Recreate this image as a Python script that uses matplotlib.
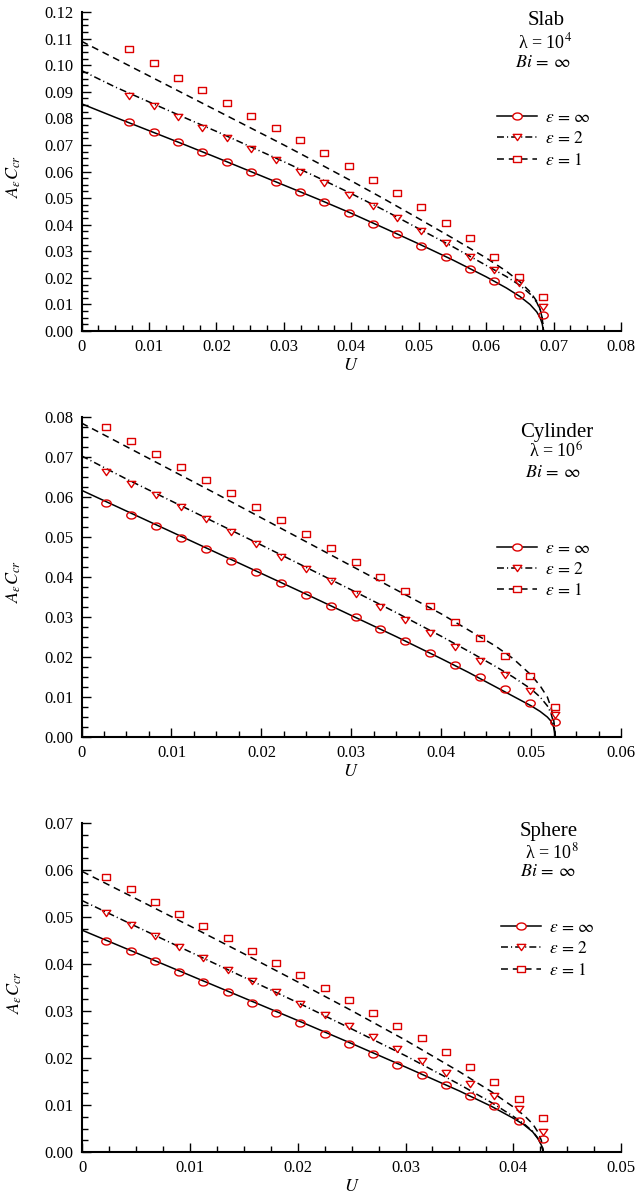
import numpy as np
import matplotlib
matplotlib.use('Agg')
import matplotlib.pyplot as plt
from matplotlib.path import Path
from matplotlib.lines import Line2D
from matplotlib.ticker import MultipleLocator, FuncFormatter

plt.rcParams['font.family'] = ['Liberation Serif', 'DejaVu Serif']
plt.rcParams['mathtext.fontset'] = 'stix'
plt.rcParams['lines.scale_dashes'] = False

# ---------------- Slab (lambda = 1e4) ----------------
slab_mU = [0.0071, 0.0107, 0.0143, 0.0179, 0.0215, 0.0252, 0.0288, 0.0324, 0.0360,
           0.0396, 0.0432, 0.0468, 0.0504, 0.0540, 0.0576, 0.0612, 0.0648, 0.0684]
slab_inf = [0.0785, 0.0748, 0.0710, 0.0675, 0.0637, 0.0598, 0.0561, 0.0523, 0.0484,
            0.0444, 0.0404, 0.0364, 0.0320, 0.0278, 0.0234, 0.0190, 0.0136, 0.0062]
slab_e2 = [0.0885, 0.0847, 0.0804, 0.0765, 0.0726, 0.0685, 0.0644, 0.0600, 0.0557,
           0.0513, 0.0470, 0.0424, 0.0376, 0.0330, 0.0277, 0.0229, 0.0179, 0.0091]
slab_e1 = [0.1062, 0.1007, 0.0953, 0.0905, 0.0856, 0.0810, 0.0764, 0.0718, 0.0670,
           0.0620, 0.0570, 0.0519, 0.0465, 0.0407, 0.0349, 0.0280, 0.0202, 0.0127]
slab_lU = [0.0, 0.005, 0.010, 0.015, 0.020, 0.025, 0.030, 0.035, 0.040, 0.045,
           0.050, 0.055, 0.060, 0.063, 0.065, 0.0665, 0.0675, 0.068, 0.0683, 0.0685]
slab_l_inf = [0.0855, 0.0804, 0.0754, 0.0704, 0.0653, 0.0601, 0.0549, 0.0497, 0.0443, 0.0386,
              0.0328, 0.0268, 0.0204, 0.0162, 0.0130, 0.0100, 0.0072, 0.0050, 0.0028, 0.0]
slab_l_e2 = [0.0980, 0.0918, 0.0862, 0.0806, 0.0751, 0.0694, 0.0637, 0.0578, 0.0517, 0.0453,
             0.0385, 0.0318, 0.0247, 0.0205, 0.0172, 0.0140, 0.0108, 0.0080, 0.0050, 0.0]
slab_l_e1 = [0.1090, 0.1025, 0.0960, 0.0895, 0.0830, 0.0765, 0.0700, 0.0633, 0.0565, 0.0495,
             0.0423, 0.0350, 0.0275, 0.0225, 0.0185, 0.0148, 0.0112, 0.0082, 0.0050, 0.0]

# ---------------- Cylinder (lambda = 1e6) ----------------
cyl_mU = [0.00277, 0.00554, 0.00831, 0.01108, 0.01385, 0.01662, 0.01939, 0.02216, 0.02493,
          0.02770, 0.03047, 0.03324, 0.03601, 0.03878, 0.04155, 0.04432, 0.04709, 0.04986, 0.05263]
cyl_inf = [0.0585, 0.0556, 0.0527, 0.0498, 0.0470, 0.0441, 0.0413, 0.0384, 0.0356, 0.0327,
           0.0299, 0.0270, 0.0240, 0.0209, 0.0180, 0.0149, 0.0119, 0.0086, 0.0038]
cyl_e2 = [0.0663, 0.0633, 0.0604, 0.0574, 0.0544, 0.0513, 0.0482, 0.0451, 0.0420, 0.0389,
          0.0357, 0.0325, 0.0292, 0.0259, 0.0224, 0.0191, 0.0155, 0.0116, 0.0055]
cyl_e1 = [0.0776, 0.0740, 0.0708, 0.0676, 0.0643, 0.0610, 0.0576, 0.0543, 0.0508, 0.0473,
          0.0437, 0.0401, 0.0365, 0.0328, 0.0288, 0.0248, 0.0203, 0.0153, 0.0076]
cyl_lU = [0.0, 0.005, 0.010, 0.015, 0.020, 0.025, 0.030, 0.035, 0.040, 0.043,
          0.046, 0.048, 0.050, 0.051, 0.0518, 0.0522, 0.0525, 0.0527]
cyl_l_inf = [0.0617, 0.0565, 0.0513, 0.0461, 0.0409, 0.0357, 0.0304, 0.0251, 0.0196, 0.0162,
             0.0126, 0.0102, 0.0078, 0.0064, 0.0050, 0.0040, 0.0025, 0.0]
cyl_l_e2 = [0.0703, 0.0645, 0.0590, 0.0535, 0.0480, 0.0424, 0.0368, 0.0311, 0.0252, 0.0215,
            0.0177, 0.0150, 0.0120, 0.0100, 0.0078, 0.0060, 0.0035, 0.0]
cyl_l_e1 = [0.0785, 0.0726, 0.0667, 0.0608, 0.0548, 0.0488, 0.0428, 0.0368, 0.0308, 0.0268,
            0.0228, 0.0196, 0.0155, 0.0128, 0.0100, 0.0075, 0.0045, 0.0]

# ---------------- Sphere (lambda = 1e8) ----------------
sph_mU = [0.00225, 0.00450, 0.00675, 0.00900, 0.01125, 0.01350, 0.01575, 0.01800, 0.02025,
          0.02250, 0.02475, 0.02700, 0.02925, 0.03150, 0.03375, 0.03600, 0.03825, 0.04050, 0.04275]
sph_inf = [0.0450, 0.0428, 0.0406, 0.0384, 0.0362, 0.0340, 0.0318, 0.0296, 0.0274, 0.0252,
           0.0230, 0.0208, 0.0186, 0.0164, 0.0142, 0.0120, 0.0097, 0.0067, 0.0028]
sph_e2 = [0.0508, 0.0484, 0.0460, 0.0436, 0.0412, 0.0388, 0.0364, 0.0340, 0.0316, 0.0292,
          0.0268, 0.0244, 0.0219, 0.0194, 0.0169, 0.0144, 0.0120, 0.0092, 0.0042]
sph_e1 = [0.0586, 0.0559, 0.0533, 0.0507, 0.0481, 0.0455, 0.0428, 0.0402, 0.0376, 0.0350,
          0.0323, 0.0296, 0.0269, 0.0242, 0.0212, 0.0182, 0.0150, 0.0113, 0.0072]
sph_lU = [0.0, 0.005, 0.010, 0.015, 0.020, 0.025, 0.030, 0.035, 0.038, 0.040,
          0.041, 0.0418, 0.0423, 0.0426, 0.0428]
sph_l_inf = [0.0472, 0.0424, 0.0376, 0.0328, 0.0280, 0.0231, 0.0181, 0.0130, 0.0097, 0.0072,
             0.0058, 0.0043, 0.0028, 0.0015, 0.0]
sph_l_e2 = [0.0535, 0.0480, 0.0426, 0.0372, 0.0318, 0.0262, 0.0205, 0.0144, 0.0105, 0.0076,
            0.0060, 0.0044, 0.0029, 0.0016, 0.0]
sph_l_e1 = [0.0597, 0.0539, 0.0481, 0.0422, 0.0362, 0.0301, 0.0238, 0.0171, 0.0128, 0.0096,
            0.0078, 0.0060, 0.0042, 0.0025, 0.0]

labels = [r'$\epsilon\,=\,\infty$', r'$\epsilon\,=\,2$', r'$\epsilon\,=\,1$']

# marker shapes (flattened like the original)
t = np.linspace(0, 2 * np.pi, 41)
m_ell = Path(np.column_stack([np.cos(t), 0.74 * np.sin(t)]), closed=True)
m_tri = Path([(-1, 0.72), (1, 0.72), (0, -0.72), (-1, 0.72)], closed=True)
m_rect = Path([(-1, -0.72), (1, -0.72), (1, 0.72), (-1, 0.72), (-1, -0.72)], closed=True)
markers = [m_ell, m_tri, m_rect]
msizes = [6.8, 6.2, 5.6]
styles = ['-', (0, (5, 2.2, 0.8, 2.2)), (0, (5, 3.5))]
red = '#dd0000'

panels = [
    dict(rect=[0.128, 0.7225, 0.847, 0.2674], xmax=0.08, ymax=0.12,
         mU=slab_mU, m=[slab_inf, slab_e2, slab_e1],
         lU=slab_lU, l=[slab_l_inf, slab_l_e2, slab_l_e1],
         name='Slab', lam=r'λ = 10$^{4}$',
         txt=[(0.861, 0.972), (0.859, 0.905), (0.855, 0.843)], leg=(0.770, 0.693)),
    dict(rect=[0.128, 0.3822, 0.847, 0.2682], xmax=0.06, ymax=0.08,
         mU=cyl_mU, m=[cyl_inf, cyl_e2, cyl_e1],
         lU=cyl_lU, l=[cyl_l_inf, cyl_l_e2, cyl_l_e1],
         name='Cylinder', lam=r'λ = 10$^{6}$',
         txt=[(0.881, 0.953), (0.880, 0.891), (0.874, 0.828)], leg=(0.770, 0.614)),
    dict(rect=[0.129, 0.0343, 0.846, 0.2758], xmax=0.05, ymax=0.07,
         mU=sph_mU, m=[sph_inf, sph_e2, sph_e1],
         lU=sph_lU, l=[sph_l_inf, sph_l_e2, sph_l_e1],
         name='Sphere', lam=r'λ = 10$^{8}$',
         txt=[(0.865, 0.974), (0.872, 0.912), (0.863, 0.852)], leg=(0.777, 0.706)),
]

fig = plt.figure(figsize=(6.37, 11.93), dpi=100)

for p in panels:
    ax = fig.add_axes(p['rect'])
    for k in range(3):
        ax.plot(p['lU'], p['l'][k], color='black', lw=1.1, linestyle=styles[k], zorder=2)
        ax.plot(p['mU'], p['m'][k], linestyle='none', marker=markers[k], ms=msizes[k],
                mfc='none', mec=red, mew=1.0, zorder=3, clip_on=False)
    ax.set_xlim(0, p['xmax'])
    ax.set_ylim(0, p['ymax'])
    ax.xaxis.set_major_locator(MultipleLocator(0.01))
    ax.xaxis.set_minor_locator(MultipleLocator(0.0025))
    ax.yaxis.set_major_locator(MultipleLocator(0.01))
    ax.yaxis.set_minor_locator(MultipleLocator(0.0025))
    ax.xaxis.set_major_formatter(FuncFormatter(lambda v, pos: '0' if abs(v) < 1e-9 else '%.2f' % v))
    ax.yaxis.set_major_formatter(FuncFormatter(lambda v, pos: '%.2f' % v))
    for s in ['top', 'right']:
        ax.spines[s].set_visible(False)
    for s in ['left', 'bottom']:
        ax.spines[s].set_linewidth(1.5)
    ax.tick_params(which='both', direction='in', top=False, right=False, width=1.0,
                   labelsize=12)
    ax.tick_params(which='major', length=6.5, pad=6)
    ax.tick_params(which='minor', length=4)
    ax.set_xlabel(r'$U$', fontsize=13, labelpad=1)
    ax.set_ylabel(r'$A_\epsilon C_{cr}$', fontsize=13)
    ax.yaxis.set_label_coords(-0.108, 0.485)

    (x1, y1), (x2, y2), (x3, y3) = p['txt']
    ax.text(x1, y1, p['name'], transform=ax.transAxes, ha='center', va='center', fontsize=15)
    ax.text(x2, y2, p['lam'], transform=ax.transAxes, ha='center', va='center', fontsize=13)
    ax.text(x3, y3, r'$Bi\,=\,\infty$', transform=ax.transAxes, ha='center', va='center', fontsize=13)

    handles = [Line2D([], [], color='black', lw=1.1, linestyle=styles[k], marker=markers[k],
                      ms=msizes[k], mfc='white', mec=red, mew=1.0) for k in range(3)]
    ax.legend(handles, labels, loc='upper left', bbox_to_anchor=p['leg'], frameon=False,
              fontsize=12.5, handlelength=2.3, handletextpad=0.45, labelspacing=0.3,
              borderpad=0, borderaxespad=0)

fig.savefig('out.png', dpi=100)
